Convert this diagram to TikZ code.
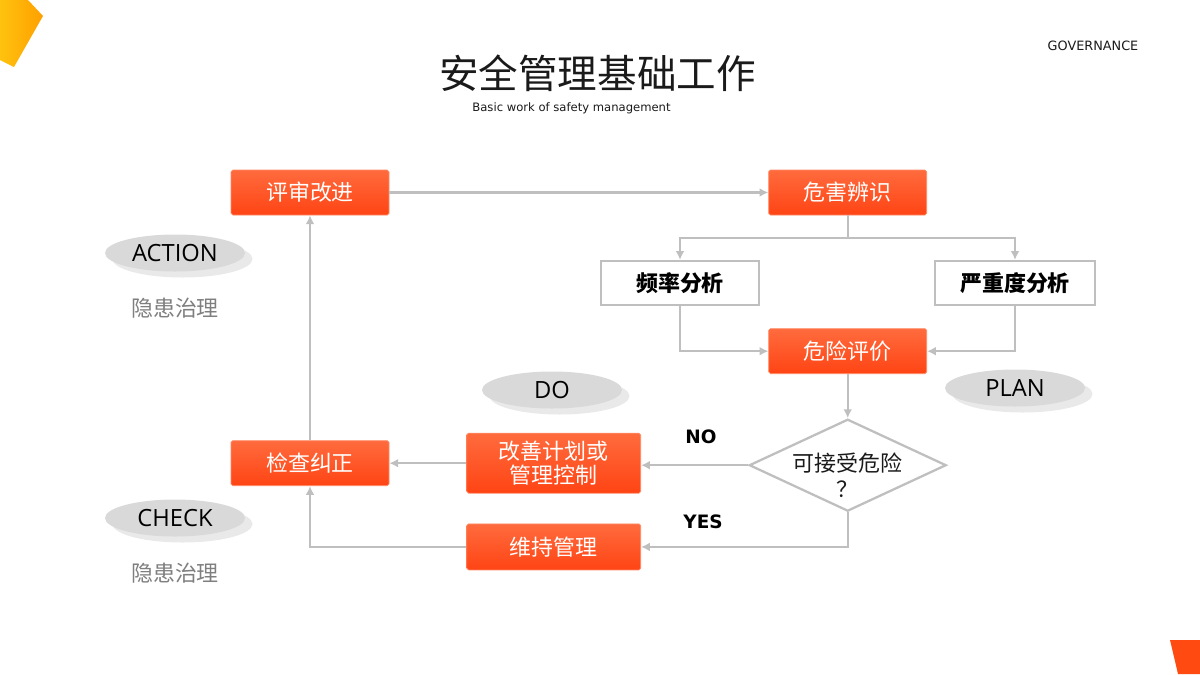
\documentclass[tikz,border=0pt]{standalone}
\usepackage{fontspec}
\setmainfont{DejaVu Sans}
\newfontfamily\cjk{Noto Sans CJK SC}
\newfontfamily\tagfont{Open Sans}
\usepackage{tikz}
\usetikzlibrary{positioning,shapes.geometric,shadows,arrows.meta}
\usepackage{xcolor}
\definecolor{Line}{HTML}{BFBFBF}
\definecolor{BoxTop}{HTML}{FF6B3D}
\definecolor{BoxBottom}{HTML}{FF4414}
\definecolor{BoxEdge}{HTML}{FF8A65}
\definecolor{TagGray}{HTML}{D9D9D9}
\definecolor{TagShade}{HTML}{E9E9E9}
\definecolor{NoteGray}{HTML}{7F7F7F}
\definecolor{Ink}{HTML}{1A1A1A}
\definecolor{CornerGold}{HTML}{FFC20E}
\definecolor{CornerAmber}{HTML}{FFA000}
\definecolor{CornerRed}{HTML}{FF4A12}

\begin{document}
\begin{tikzpicture}[
      node distance=0.6cm,
      every node/.style={font=\cjk\fontsize{12.5}{15}\selectfont},
      box/.style={draw=BoxEdge, line width=0.4pt, top color=BoxTop, bottom color=BoxBottom, text=white,
                  rounded corners=1pt, minimum width=3.16cm, minimum height=0.9cm, align=center, inner sep=2pt},
      plain/.style={draw=Line, line width=1.3pt, fill=white, minimum width=3.16cm, minimum height=0.88cm,
                    font=\cjk\bfseries\fontsize{12.5}{15}\selectfont},
      check/.style={diamond, draw=Line, line width=1.3pt, fill=white, minimum width=3.94cm, minimum height=1.84cm,
                    aspect=2.14, inner sep=0pt, align=center, text=Ink},
      tag/.style={ellipse, fill=TagGray, minimum width=2.8cm, minimum height=0.74cm, inner sep=0pt,
                  font=\tagfont\fontsize{13.5}{15}\selectfont, text=black,
                  drop shadow={shadow xshift=0.15cm, shadow yshift=-0.12cm, fill=TagShade, opacity=1}},
      note/.style={text=NoteGray},
      lbl/.style={font=\bfseries\fontsize{10.5}{12}\selectfont},
      arrow/.style={-{Latex[length=5pt,width=5pt]}, line width=1.3pt, draw=Line}
    ]
    \useasboundingbox (0,0) rectangle (24,-13.48);

    % corner pieces
    \shade[left color=CornerGold, right color=CornerAmber] (0,0) -- (0.56,0) -- (0.86,-0.32) -- (0.28,-1.34) -- (0,-1.2) -- cycle;
    \fill[CornerRed] (23.4,-12.8) -- (24,-12.8) -- (24,-13.48) -- (23.56,-13.48) -- cycle;

    % headings
    \node[font=\cjk\fontsize{22.5}{26}\selectfont, text=Ink] (title) at (11.95,-1.46) {安全管理基础工作};
    \node[font=\fontsize{6.6}{8}\selectfont, text=Ink] (subtitle) at (11.43,-2.16) {Basic work of safety management};
    \node[font=\fontsize{7.3}{9}\selectfont, text=Ink] (gov) at (21.86,-0.92) {GOVERNANCE};

    % flow boxes
    \node[box] (review) at (6.2,-3.85) {评审改进};
    \node[box, right=7.58cm of review] (hazard) {危害辨识};
    \node[plain] (freq) at (13.6,-5.66) {频率分析};
    \node[plain, minimum width=3.2cm] (sever) at (20.3,-5.66) {严重度分析};
    \node[box, below=2.26cm of hazard] (riskeval) {危险评价};
    \node[check, below=0.88cm of riskeval] (accept) {\makebox[0pt]{\strut}\\\makebox[0pt]{\strut 可接受危险}\\\makebox[0pt]{\strut？}};
    \node[box, below=4.5cm of review] (inspect) {检查纠正};
    \node[box, right=1.54cm of inspect, minimum width=3.48cm, minimum height=1.2cm, font=\cjk\fontsize{12.5}{13.5}\selectfont] (improve) {改善计划或\\管理控制};
    \node[box, below=0.6cm of improve, minimum width=3.48cm, minimum height=0.92cm] (maintain) {维持管理};

    % PDCA tags
    \node[tag] (act) at (3.5,-5.06) {ACTION};
    \node[note] (actnote) at (3.5,-6.16) {隐患治理};
    \node[tag] (do) at (11.04,-7.8) {DO};
    \node[tag] (plan) at (20.3,-7.76) {PLAN};
    \node[tag] (chk) at (3.5,-10.36) {CHECK};
    \node[note] (chknote) at (3.5,-11.46) {隐患治理};

    % connectors
    \draw[arrow] (review) -- (hazard);
    \draw[arrow] (hazard.south) -- ++(0,-0.46) -| (freq.north);
    \draw[arrow] (hazard.south) -- ++(0,-0.46) -| (sever.north);
    \draw[arrow] (freq.south) |- (riskeval.west);
    \draw[arrow] (sever.south) |- (riskeval.east);
    \draw[arrow] (riskeval) -- (accept);
    \draw[arrow] (accept.west) -- node[lbl, pos=0.44, above=0.28cm] {NO} (improve.east |- accept.west);
    \draw[arrow] (accept.south) |- node[lbl, pos=0.85, above=0.22cm] {YES} (maintain.east);
    \draw[arrow] (improve) -- (inspect);
    \draw[arrow] (maintain.west) -| (inspect.south);
    \draw[arrow] (inspect) -- (review);
  \end{tikzpicture}
\end{document}
